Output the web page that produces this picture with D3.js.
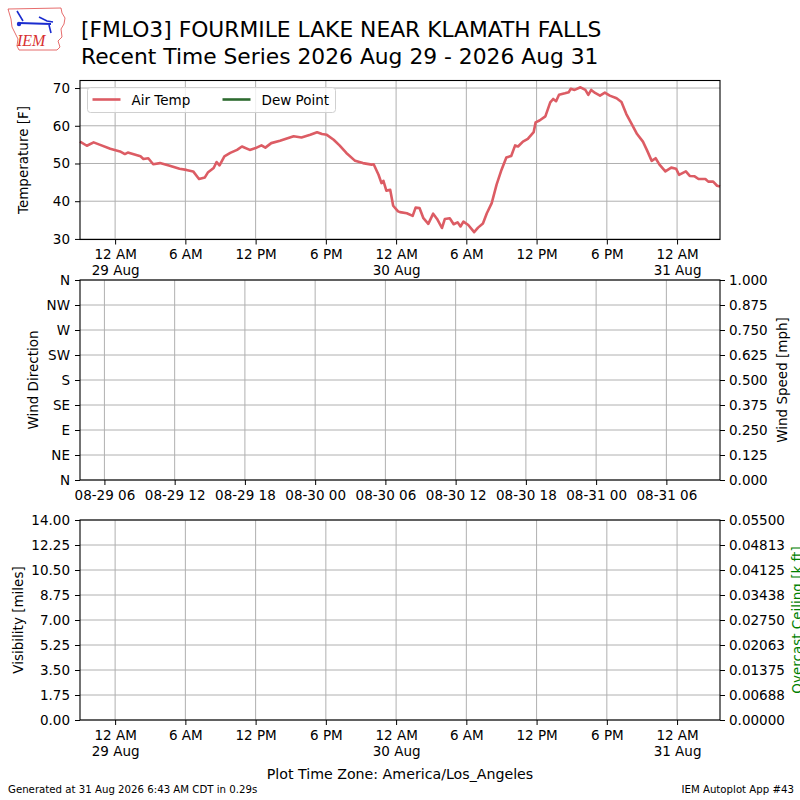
<!DOCTYPE html>
<html>
<head>
<meta charset="utf-8">
<script src="https://cdn.jsdelivr.net/npm/d3@7"></script>
<style>
  body { margin: 0; background: #fff; }
  svg { font-family: "DejaVu Sans", sans-serif; }
</style>
</head>
<body>
<svg id="chart" width="800" height="800"></svg>
<script>
// Air temperature observations, local wall clock (America/Los_Angeles)
const obsTimes = [
  "2026-08-28 21:00", "2026-08-28 21:35", "2026-08-28 22:10", "2026-08-28 22:40", "2026-08-28 23:35",
  "2026-08-29 00:25", "2026-08-29 00:50", "2026-08-29 01:05", "2026-08-29 02:10", "2026-08-29 02:25",
  "2026-08-29 02:50", "2026-08-29 03:15", "2026-08-29 03:50", "2026-08-29 04:40", "2026-08-29 05:30",
  "2026-08-29 06:05", "2026-08-29 06:40", "2026-08-29 07:10", "2026-08-29 07:40", "2026-08-29 07:55",
  "2026-08-29 08:25", "2026-08-29 08:40", "2026-08-29 08:55", "2026-08-29 09:20", "2026-08-29 09:50",
  "2026-08-29 10:25", "2026-08-29 10:50", "2026-08-29 11:30", "2026-08-29 12:05", "2026-08-29 12:30",
  "2026-08-29 12:50", "2026-08-29 13:20", "2026-08-29 14:05", "2026-08-29 15:15", "2026-08-29 15:55",
  "2026-08-29 16:40", "2026-08-29 17:15", "2026-08-29 17:40", "2026-08-29 18:05", "2026-08-29 18:40",
  "2026-08-29 19:10", "2026-08-29 19:45", "2026-08-29 20:30", "2026-08-29 21:10", "2026-08-29 21:55",
  "2026-08-29 22:05", "2026-08-29 22:30", "2026-08-29 22:45", "2026-08-29 22:55", "2026-08-29 23:10",
  "2026-08-29 23:30", "2026-08-29 23:45", "2026-08-30 00:10", "2026-08-30 00:20", "2026-08-30 00:55",
  "2026-08-30 01:25", "2026-08-30 01:40", "2026-08-30 02:00", "2026-08-30 02:20", "2026-08-30 02:45",
  "2026-08-30 03:10", "2026-08-30 03:30", "2026-08-30 03:55", "2026-08-30 04:10", "2026-08-30 04:35",
  "2026-08-30 04:55", "2026-08-30 05:15", "2026-08-30 05:30", "2026-08-30 05:45", "2026-08-30 06:10",
  "2026-08-30 06:40", "2026-08-30 07:00", "2026-08-30 07:25", "2026-08-30 07:45", "2026-08-30 08:10",
  "2026-08-30 08:35", "2026-08-30 09:00", "2026-08-30 09:25", "2026-08-30 09:50", "2026-08-30 10:10",
  "2026-08-30 10:25", "2026-08-30 10:50", "2026-08-30 11:15", "2026-08-30 11:45", "2026-08-30 11:55",
  "2026-08-30 12:15", "2026-08-30 12:45", "2026-08-30 13:10", "2026-08-30 13:25", "2026-08-30 13:40",
  "2026-08-30 13:55", "2026-08-30 14:25", "2026-08-30 14:45", "2026-08-30 14:55", "2026-08-30 15:15",
  "2026-08-30 15:45", "2026-08-30 16:10", "2026-08-30 16:25", "2026-08-30 16:40", "2026-08-30 17:00",
  "2026-08-30 17:25", "2026-08-30 17:50", "2026-08-30 18:15", "2026-08-30 18:50", "2026-08-30 19:15",
  "2026-08-30 19:40", "2026-08-30 20:05", "2026-08-30 20:35", "2026-08-30 21:05", "2026-08-30 21:25",
  "2026-08-30 21:50", "2026-08-30 22:10", "2026-08-30 22:30", "2026-08-30 23:00", "2026-08-30 23:30",
  "2026-08-30 23:55", "2026-08-31 00:10", "2026-08-31 00:45", "2026-08-31 01:05", "2026-08-31 01:30",
  "2026-08-31 01:50", "2026-08-31 02:25", "2026-08-31 02:40", "2026-08-31 03:05", "2026-08-31 03:25",
  "2026-08-31 03:40"
];
const airTemp = [
  55.8, 54.7, 55.6, 55.0, 53.9,
  53.2, 52.5, 52.9, 51.9, 51.2,
  51.4, 49.8, 50.1, 49.4, 48.6,
  48.3, 47.9, 45.9, 46.3, 47.6,
  48.8, 50.4, 49.5, 51.9, 52.8,
  53.6, 54.5, 53.6, 54.2, 54.8,
  54.2, 55.4, 56.0, 57.2, 56.9,
  57.6, 58.3, 57.8, 57.6, 56.3,
  54.8, 52.8, 50.7, 50.1, 49.7,
  49.8, 47.0, 44.8, 45.4, 42.8,
  43.0, 38.8, 37.3, 37.1, 36.8,
  36.1, 38.3, 38.2, 35.5, 34.0,
  36.7, 35.3, 32.9, 35.3, 35.5,
  33.9, 34.4, 33.3, 34.6, 33.7,
  31.8, 33.0, 34.1, 36.8, 39.5,
  44.4, 48.3, 51.6, 52.0, 54.8,
  54.5, 55.8, 56.5, 58.3, 60.9,
  61.4, 62.5, 66.2, 67.1, 66.5,
  68.2, 68.6, 68.9, 69.8, 69.5,
  70.2, 69.5, 68.2, 69.5, 68.7,
  68.0, 68.8, 68.0, 67.3, 66.3,
  63.1, 60.7, 57.8, 55.8, 53.6,
  50.7, 51.4, 49.7, 47.9, 48.9,
  48.6, 47.0, 47.9, 46.7, 46.6,
  45.9, 45.9, 45.2, 45.2, 44.1,
  43.9
];
const dewPoint = []; // no dew point reports
const timeDomain = ["2026-08-28 21:00", "2026-08-31 03:40"];
const utcOffsetHours = 7; // PDT -> UTC for the wind panel
const tempDomain = [29.85, 72.0];
const tempTicks = [30, 40, 50, 60, 70];
const dirTicks = [0, 45, 90, 135, 180, 225, 270, 315, 360];
const dirLabels = ["N", "NE", "E", "SE", "S", "SW", "W", "NW", "N"];
const speedTicks = [0, 0.125, 0.25, 0.375, 0.5, 0.625, 0.75, 0.875, 1.0];
const visTicks = [0, 1.75, 3.5, 5.25, 7.0, 8.75, 10.5, 12.25, 14.0];
const ceilTicks = [0, 0.006875, 0.01375, 0.020625, 0.0275, 0.034375, 0.04125, 0.048125, 0.055];

const parse = d3.utcParse("%Y-%m-%d %H:%M");
const tempSeries = obsTimes.map((t, i) => ({ t: parse(t), v: airTemp[i] }));

const svg = d3.select("#chart");
const FONT = 13.5;
const GRID = "#b0b0b0";
const left = 80, right = 720;

const x = d3.scaleUtc().domain(timeDomain.map(parse)).range([left, right]);
const xUtc = d3.scaleUtc()
  .domain(timeDomain.map(s => d3.utcHour.offset(parse(s), utcOffsetHours)))
  .range([left + 1, right + 1]);
const localTicks = d3.utcHour.every(6).range(x.domain()[0], d3.utcMinute.offset(x.domain()[1], 1));
const utcTicks = d3.utcHour.every(6).range(xUtc.domain()[0], d3.utcMinute.offset(xUtc.domain()[1], 1));

const panels = {
  top: { y0: 80.5, y1: 239.5 },
  mid: { y0: 280, y1: 480 },
  bot: { y0: 520, y1: 720 }
};

// --- helpers ---
function grid(g, p, xs, xVals, ys, yVals) {
  const gg = g.append("g").attr("class", "grid");
  gg.selectAll("line.v").data(xVals).join("line")
    .attr("x1", d => xs(d)).attr("x2", d => xs(d))
    .attr("y1", p.y0).attr("y2", p.y1)
    .attr("stroke", GRID).attr("stroke-width", 1);
  gg.selectAll("line.h").data(yVals).join("line")
    .attr("x1", left).attr("x2", right)
    .attr("y1", d => ys(d)).attr("y2", d => ys(d))
    .attr("stroke", GRID).attr("stroke-width", 1);
}

function frame(p) {
  svg.append("rect")
    .attr("x", left).attr("y", p.y0)
    .attr("width", right - left).attr("height", p.y1 - p.y0)
    .attr("fill", "none").attr("stroke", "#000").attr("stroke-width", 1.1);
}

function styleAxis(g, size) {
  g.select(".domain").remove();
  g.selectAll(".tick line").attr("stroke", "#000").attr("stroke-width", 1);
  g.selectAll(".tick text").attr("fill", "#000")
    .attr("font-size", size || FONT).attr("font-family", "DejaVu Sans");
}

function localTimeAxis(p) {
  const fmtHour = d3.utcFormat("%-I %p");
  const fmtDay = d3.utcFormat("%d %b");
  const g = svg.append("g").attr("transform", `translate(0,${p.y1})`)
    .call(d3.axisBottom(x).tickValues(localTicks).tickSize(5).tickPadding(5).tickFormat(""));
  styleAxis(g);
  g.selectAll(".tick text").each(function (d) {
    const t = d3.select(this);
    t.text(null);
    t.append("tspan").attr("x", 0).attr("dy", "0.71em").text(fmtHour(d));
    if (d.getUTCHours() === 0) {
      t.append("tspan").attr("x", 0).attr("dy", "1.2em").text(fmtDay(d));
    }
  });
}

function yLabel(text, cx, cy, color) {
  svg.append("text")
    .attr("transform", `translate(${cx},${cy}) rotate(-90)`)
    .attr("text-anchor", "middle").attr("dominant-baseline", "central")
    .attr("font-size", FONT).attr("fill", color || "#000").text(text);
}

// --- top panel: temperature ---
const yT = d3.scaleLinear().domain(tempDomain).range([panels.top.y1, panels.top.y0]);
grid(svg, panels.top, x, localTicks, yT, tempTicks);

const line = d3.line().x(d => x(d.t)).y(d => yT(d.v));
svg.append("path").datum(tempSeries)
  .attr("d", line).attr("fill", "none")
  .attr("stroke", "#dc5c64").attr("stroke-width", 2.6)
  .attr("stroke-linejoin", "round");
svg.append("path").datum(dewPoint.map((v, i) => ({ t: parse(obsTimes[i]), v })))
  .attr("d", line).attr("fill", "none")
  .attr("stroke", "#2e6b30").attr("stroke-width", 2.6);

frame(panels.top);
styleAxis(svg.append("g").attr("transform", `translate(${left},0)`)
  .call(d3.axisLeft(yT).tickValues(tempTicks).tickSize(5).tickPadding(5)));
localTimeAxis(panels.top);
yLabel("Temperature [F]", 23, 160);

// legend
const lg = svg.append("g").attr("transform", "translate(87.5,87.5)");
lg.append("rect").attr("width", 248).attr("height", 25).attr("rx", 3)
  .attr("fill", "#fff").attr("fill-opacity", 0.8)
  .attr("stroke", "#d0d0d0").attr("stroke-width", 1);
const legendItems = [
  { name: "Air Temp", color: "#dc5c64", x: 5 },
  { name: "Dew Point", color: "#2e6b30", x: 135 }
];
legendItems.forEach(it => {
  lg.append("line").attr("x1", it.x).attr("x2", it.x + 28).attr("y1", 12).attr("y2", 12)
    .attr("stroke", it.color).attr("stroke-width", 2.6);
  lg.append("text").attr("x", it.x + 39).attr("y", 12).attr("dominant-baseline", "central")
    .attr("font-size", FONT).text(it.name);
});

// --- middle panel: wind ---
const yDir = d3.scaleLinear().domain([0, 360]).range([panels.mid.y1, panels.mid.y0]);
const ySpd = d3.scaleLinear().domain([0, 1]).range([panels.mid.y1, panels.mid.y0]);
grid(svg, panels.mid, xUtc, utcTicks, yDir, dirTicks);
frame(panels.mid);
styleAxis(svg.append("g").attr("transform", `translate(${left},0)`)
  .call(d3.axisLeft(yDir).tickValues(dirTicks).tickSize(5).tickPadding(5)
    .tickFormat((d, i) => dirLabels[i])));
styleAxis(svg.append("g").attr("transform", `translate(${right},0)`)
  .call(d3.axisRight(ySpd).tickValues(speedTicks).tickSize(5).tickPadding(4)
    .tickFormat(d3.format(".3f"))));
styleAxis(svg.append("g").attr("transform", `translate(0,${panels.mid.y1})`)
  .call(d3.axisBottom(xUtc).tickValues(utcTicks).tickSize(5).tickPadding(5)
    .tickFormat(d3.utcFormat("%m-%d %H"))), 13.5);
yLabel("Wind Direction", 33, 380);
yLabel("Wind Speed [mph]", 782, 380);

// --- bottom panel: visibility / ceiling ---
const yVis = d3.scaleLinear().domain([0, 14]).range([panels.bot.y1, panels.bot.y0]);
const yCeil = d3.scaleLinear().domain([0, 0.055]).range([panels.bot.y1, panels.bot.y0]);
grid(svg, panels.bot, x, localTicks, yVis, visTicks);
frame(panels.bot);
styleAxis(svg.append("g").attr("transform", `translate(${left},0)`)
  .call(d3.axisLeft(yVis).tickValues(visTicks).tickSize(5).tickPadding(5)
    .tickFormat(d3.format(".2f"))));
styleAxis(svg.append("g").attr("transform", `translate(${right},0)`)
  .call(d3.axisRight(yCeil).tickValues(ceilTicks).tickSize(5).tickPadding(4)
    .tickFormat(d3.format(".5f"))));
localTimeAxis(panels.bot);
yLabel("Visibility [miles]", 18, 620);
yLabel("Overcast Ceiling [k ft]", 797, 620, "#008000");

// --- titles and footer ---
svg.append("text").attr("x", 81).attr("y", 37).attr("font-size", 21.8)
  .text("[FMLO3] FOURMILE LAKE NEAR KLAMATH FALLS");
svg.append("text").attr("x", 81).attr("y", 63.5).attr("font-size", 21.8)
  .text("Recent Time Series 2026 Aug 29 - 2026 Aug 31");
svg.append("text").attr("x", 400).attr("y", 779).attr("text-anchor", "middle")
  .attr("font-size", 14.2).text("Plot Time Zone: America/Los_Angeles");
svg.append("text").attr("x", 8).attr("y", 793).attr("font-size", 10.2)
  .text("Generated at 31 Aug 2026 6:43 AM CDT in 0.29s");
svg.append("text").attr("x", 794).attr("y", 793).attr("text-anchor", "end")
  .attr("font-size", 10.2).text("IEM Autoplot App #43");

// --- IEM logo (decorative) ---
const logo = svg.append("g").attr("transform", "translate(7,7)");
logo.append("path")
  .attr("d", "M1,2 L54,1 L55,6 L58,11 L57,17 L54,22 L55,30 L51,34 L53,40 L50,43 L12,43 L10,39 L11,32 L8,26 L5,20 L4,12 Z")
  .attr("fill", "none").attr("stroke", "#e04848").attr("stroke-width", 0.8);
logo.append("line").attr("x1", 12).attr("y1", 16).attr("x2", 44).attr("y2", 17)
  .attr("stroke", "#1a2ccf").attr("stroke-width", 2);
logo.append("path").attr("d", "M10,4 L16,14 M32,10 L40,14 L46,15 M42,18 L44,26")
  .attr("fill", "none").attr("stroke", "#1a2ccf").attr("stroke-width", 1.6);
logo.append("circle").attr("cx", 12).attr("cy", 17).attr("r", 2.2).attr("fill", "#1a2ccf");
logo.append("text").attr("x", 10).attr("y", 39).attr("font-family", "Liberation Serif")
  .attr("font-style", "italic").attr("font-size", 16).attr("fill", "#d83030").text("IEM");
</script>
</body>
</html>
